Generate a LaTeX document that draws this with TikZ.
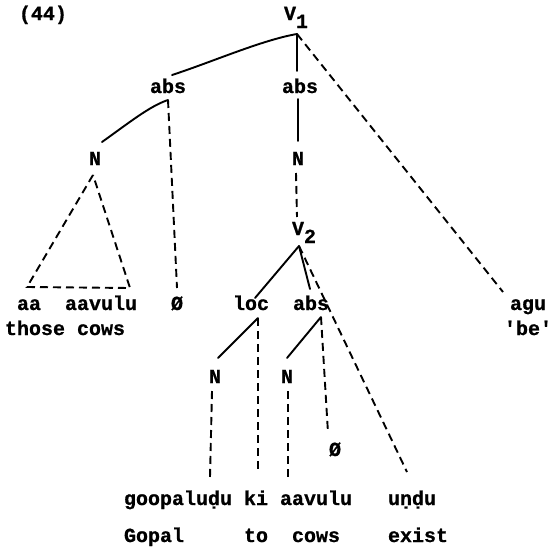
\documentclass[tikz,border=0pt]{standalone}
\usepackage{fontspec}
\newfontfamily\tw{Liberation Mono}[BoldFeatures={FakeBold=0.8}]
\begin{document}
\begin{tikzpicture}[x=1pt,y=-1pt,
  lbl/.style={font=\tw\bfseries\fontsize{20}{24}\selectfont, inner sep=0pt, anchor=base},
  edge/.style={line width=1.9pt, line cap=round},
  dedge/.style={edge, line cap=butt, dash pattern=on 8pt off 5pt}]
\useasboundingbox (0,0) rectangle (553,546);

% labels
\node[lbl] (ex) at (43,20) {(44)};
\node[lbl] (v1) at (290,20) {V\rlap{\smash{\raisebox{-8pt}{1}}}};
\node[lbl] (absL) at (168,93) {abs};
\node[lbl] (absM) at (300,93) {abs};
\node[lbl] (nL) at (95,165) {N};
\node[lbl] (nM) at (298,165) {N};
\node[lbl] (v2) at (298,235) {V\rlap{\smash{\raisebox{-8pt}{2}}}};
\node[lbl] (aa) at (29,310) {aa};
\node[lbl] (aavulu) at (101,310) {aavulu};
\node[lbl] (thosecows) at (65,335) {those cows};
\node[lbl] (zeroL) at (177,310) {Ø};
\node[lbl] (loc) at (251,310) {loc};
\node[lbl] (absV) at (311,310) {abs};
\node[lbl] (agu) at (528,310) {agu};
\node[lbl] (be) at (528,335) {\textquotesingle be\textquotesingle};
\node[lbl] (nA) at (215,383) {N};
\node[lbl] (nB) at (287,383) {N};
\node[lbl] (zeroR) at (335,456) {Ø};
\node[lbl] (goop) at (178,505) {goopaluḍu};
\node[lbl] (ki) at (256,505) {ki};
\node[lbl] (aav) at (316,505) {aavulu};
\node[lbl] (undu) at (412,505) {uṇḍu};
\node[lbl] (gopal) at (154,542) {Gopal};
\node[lbl] (to) at (256,542) {to};
\node[lbl] (cows) at (316,542) {cows};
\node[lbl] (exist) at (418,542) {exist};

% attachment points above and below the labels
\coordinate (v1f) at (297,34);
\coordinate (absLt) at (172,75);
\coordinate (absLf) at (168,100);
\coordinate (absMt) at (297,71);
\coordinate (absMf) at (298,99);
\coordinate (nLt) at (102,142);
\coordinate (nLf) at (93,175);
\coordinate (nMt) at (298,141);
\coordinate (nMf) at (296,173);
\coordinate (v2t) at (297,217);
\coordinate (v2f) at (299,246);
\coordinate (loct) at (255,298);
\coordinate (locf) at (258,318);
\coordinate (absVt) at (310,289);
\coordinate (absVf) at (321,317);
\coordinate (nAt) at (218,358);
\coordinate (nAf) at (212,391);
\coordinate (nBt) at (287,358);
\coordinate (nBf) at (288,391);
\coordinate (zeroLt) at (177,288);
\coordinate (zeroRt) at (328,433);
\coordinate (agut) at (503,292);
\coordinate (triL) at (27,287);
\coordinate (triR) at (130,288);
\coordinate (goopt) at (210,477);
\coordinate (kit) at (258,473);
\coordinate (aavt) at (288,477);
\coordinate (undut) at (407,472);

% solid branches
\draw[edge] (v1f) .. controls (262,40) and (212,62) .. (absLt);
\draw[edge] (v1f) -- (absMt);
\draw[edge] (absLf) .. controls (150,106) and (130,122) .. (nLt);
\draw[edge] (absMf) -- (nMt);
\draw[edge] (v2f) -- (loct);
\draw[edge] (v2f) -- (absVt);
\draw[edge] (locf) -- (nAt);
\draw[edge] (absVf) -- (nBt);

% dashed branches
\draw[dedge] (v1f) -- (agut);
\draw[dedge] (absLf) -- (zeroLt);
\draw[dedge] (nMf) -- (v2t);
\draw[dedge] (nLf) -- (triL) -- (triR) -- cycle;
\draw[dedge] (v2f) -- (undut);
\draw[dedge] (locf) -- (kit);
\draw[dedge] (absVf) -- (zeroRt);
\draw[dedge] (nAf) -- (goopt);
\draw[dedge] (nBf) -- (aavt);
\end{tikzpicture}
\end{document}
